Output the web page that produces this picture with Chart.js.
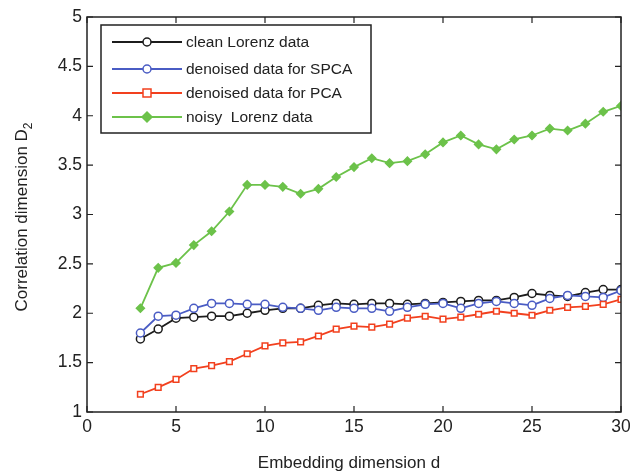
<!DOCTYPE html>
<html lang="en">
<head>
<meta charset="UTF-8">
<title>Correlation dimension</title>
<script src="https://cdn.jsdelivr.net/npm/chart.js"></script>
<style>
  html, body { margin: 0; padding: 0; background: #fff; }
  #wrap { width: 630px; height: 472px; }
</style>
</head>
<body>
<div id="wrap"><canvas id="myChart" width="630" height="472"></canvas></div>
<script>
// embedding dimension d = 3 .. 30
const dims = [3,4,5,6,7,8,9,10,11,12,13,14,15,16,17,18,19,20,21,22,23,24,25,26,27,28,29,30];

const clean = [1.74,1.84,1.95,1.96,1.97,1.97,2.00,2.03,2.05,2.05,2.08,2.10,2.09,2.10,2.10,2.09,2.10,2.11,2.12,2.13,2.13,2.16,2.20,2.18,2.17,2.21,2.24,2.24];
const spca  = [1.80,1.97,1.98,2.05,2.10,2.10,2.09,2.09,2.06,2.05,2.03,2.06,2.05,2.05,2.02,2.06,2.09,2.10,2.05,2.10,2.12,2.10,2.08,2.15,2.18,2.17,2.16,2.23];
const pca   = [1.18,1.25,1.33,1.44,1.47,1.51,1.59,1.67,1.70,1.71,1.77,1.84,1.87,1.86,1.89,1.95,1.97,1.94,1.96,1.99,2.02,2.00,1.98,2.03,2.06,2.07,2.09,2.14];
const noisy = [2.05,2.46,2.51,2.69,2.83,3.03,3.30,3.30,3.28,3.21,3.26,3.38,3.48,3.57,3.52,3.54,3.61,3.73,3.80,3.71,3.66,3.76,3.80,3.87,3.85,3.92,4.04,4.10];

const seriesNames = ['clean Lorenz data', 'denoised data for SPCA', 'denoised data for PCA', 'noisy  Lorenz data'];
const xTicks = [0, 5, 10, 15, 20, 25, 30];
const yTicks = [1, 1.5, 2, 2.5, 3, 3.5, 4, 4.5, 5];

const FONT = '"Liberation Sans", Arial, sans-serif';

function pts(vals) {
  return vals.map((v, i) => ({ x: dims[i], y: v }));
}

const styles = [
  { color: '#1c1c1c', shape: 'circle', fill: false },
  { color: '#4a5cc4', shape: 'circle', fill: false },
  { color: '#f2401e', shape: 'rect', fill: false },
  { color: '#6cc24a', shape: 'rectRot', fill: true }
];

const datasets = [clean, spca, pca, noisy].map((vals, k) => ({
  label: seriesNames[k],
  data: pts(vals),
  borderColor: styles[k].color,
  backgroundColor: styles[k].fill ? styles[k].color : '#ffffff',
  pointStyle: styles[k].shape,
  pointRadius: 4,
  pointBorderWidth: 1.5,
  borderWidth: 1.8,
  tension: 0,
  order: 4 - k
}));

// legend box, axis frame with inward ticks, subscripted y title
const matlabFrame = {
  id: 'matlabFrame',
  afterDraw(chart) {
    const ctx = chart.ctx;
    const a = chart.chartArea;
    const xs = chart.scales.x, ys = chart.scales.y;
    ctx.save();
    ctx.strokeStyle = '#222';
    ctx.lineWidth = 1.5;
    ctx.strokeRect(a.left, a.top, a.right - a.left, a.bottom - a.top);

    ctx.lineWidth = 1.2;
    const tl = 6;
    xTicks.forEach(t => {
      const x = xs.getPixelForValue(t);
      ctx.beginPath();
      ctx.moveTo(x, a.bottom); ctx.lineTo(x, a.bottom - tl);
      ctx.moveTo(x, a.top); ctx.lineTo(x, a.top + tl);
      ctx.stroke();
    });
    yTicks.forEach(t => {
      const y = ys.getPixelForValue(t);
      ctx.beginPath();
      ctx.moveTo(a.left, y); ctx.lineTo(a.left + tl, y);
      ctx.moveTo(a.right, y); ctx.lineTo(a.right - tl, y);
      ctx.stroke();
    });

    // tick labels
    ctx.fillStyle = '#222';
    ctx.font = '17.5px ' + FONT;
    ctx.textAlign = 'center';
    ctx.textBaseline = 'top';
    xTicks.forEach(t => ctx.fillText(String(t), xs.getPixelForValue(t), a.bottom + 6));
    ctx.textAlign = 'right';
    ctx.textBaseline = 'middle';
    yTicks.forEach(t => ctx.fillText(String(t), a.left - 5, ys.getPixelForValue(t)));

    // axis titles
    ctx.font = '17px ' + FONT;
    ctx.textAlign = 'center';
    ctx.textBaseline = 'alphabetic';
    ctx.fillText('Embedding dimension d', 349, 468);

    ctx.save();
    ctx.translate(27, 217);
    ctx.rotate(-Math.PI / 2);
    const main = 'Correlation dimension D';
    ctx.font = '17px ' + FONT;
    const w = ctx.measureText(main).width;
    ctx.font = '12px ' + FONT;
    const ws = ctx.measureText('2').width;
    const x0 = -(w + ws) / 2;
    ctx.textAlign = 'left';
    ctx.font = '17px ' + FONT;
    ctx.fillText(main, x0, 0);
    ctx.font = '12px ' + FONT;
    ctx.fillText('2', x0 + w, 5);
    ctx.restore();

    // legend
    const lx = 101, ly = 25, lw = 270, lh = 108;
    ctx.fillStyle = '#fff';
    ctx.fillRect(lx, ly, lw, lh);
    ctx.strokeStyle = '#222';
    ctx.lineWidth = 1.5;
    ctx.strokeRect(lx, ly, lw, lh);
    const rows = [42, 69, 93, 117];
    chart.data.datasets.forEach((ds, k) => {
      const y = rows[k];
      ctx.strokeStyle = ds.borderColor;
      ctx.lineWidth = 1.8;
      ctx.beginPath();
      ctx.moveTo(112, y); ctx.lineTo(182, y);
      ctx.stroke();
      ctx.fillStyle = ds.backgroundColor;
      ctx.lineWidth = 1.5;
      ctx.beginPath();
      if (ds.pointStyle === 'circle') {
        ctx.arc(147, y, 4, 0, Math.PI * 2);
      } else if (ds.pointStyle === 'rect') {
        ctx.rect(143, y - 4, 8, 8);
      } else {
        ctx.moveTo(147, y - 5); ctx.lineTo(152, y); ctx.lineTo(147, y + 5); ctx.lineTo(142, y);
        ctx.closePath();
      }
      ctx.fill();
      ctx.stroke();
      ctx.fillStyle = '#222';
      ctx.font = '15.5px ' + FONT;
      ctx.textAlign = 'left';
      ctx.textBaseline = 'middle';
      ctx.fillText(ds.label, 186, y + 1);
    });
    ctx.restore();
  }
};

const ctx = document.getElementById('myChart').getContext('2d');
const myChart = new Chart(ctx, {
  type: 'line',
  data: { datasets: datasets },
  options: {
    responsive: false,
    animation: false,
    layout: { padding: { top: 17, right: 9, left: 0, bottom: 0 } },
    plugins: { legend: { display: false }, tooltip: { enabled: false } },
    scales: {
      x: {
        type: 'linear', min: 0, max: 30,
        grid: { display: false }, border: { display: false },
        ticks: { display: false },
        afterFit(scale) { scale.height = 60; }
      },
      y: {
        type: 'linear', min: 1, max: 5,
        grid: { display: false }, border: { display: false },
        ticks: { display: false },
        afterFit(scale) { scale.width = 87; }
      }
    }
  },
  plugins: [matlabFrame]
});
</script>
</body>
</html>
